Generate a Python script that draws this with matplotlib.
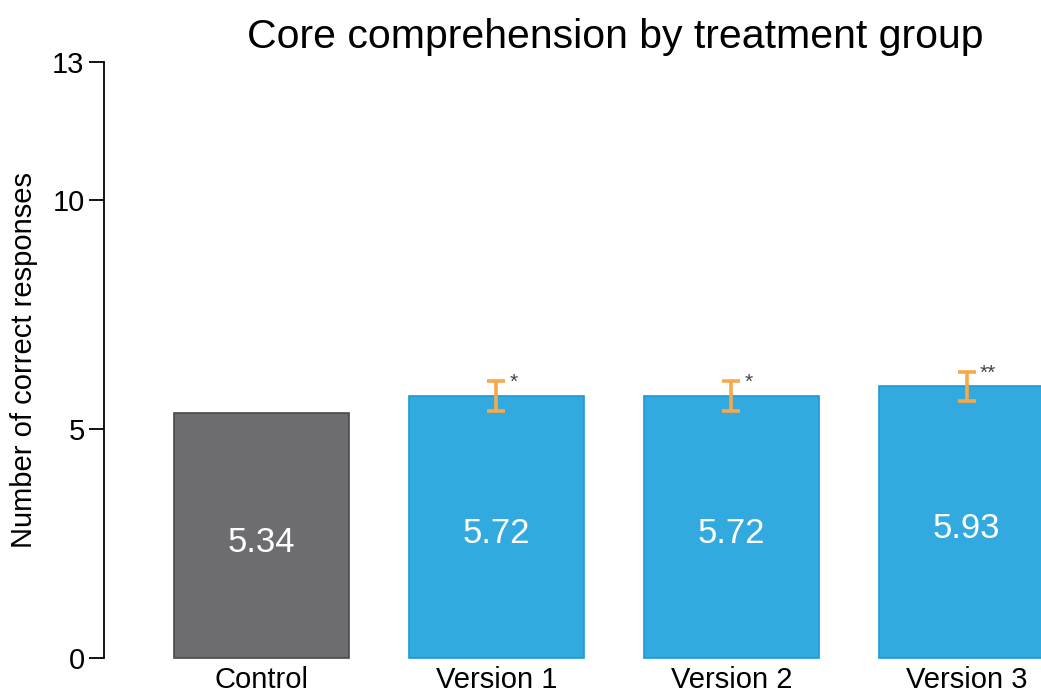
import numpy as np
import matplotlib
matplotlib.use("Agg")
from matplotlib import pyplot as plt

plt.rcParams['font.family'] = ['Liberation Sans', 'DejaVu Sans']

groups = ["Control", "Version 1", "Version 2", "Version 3"]
means = [5.34, 5.72, 5.72, 5.93]
err_low = [5.39, 5.39, 5.60]
err_high = [6.04, 6.04, 6.24]
stars = ["*", "*", "**"]

bar_colors = ["#6d6c71", "#33aadf", "#33aadf", "#33aadf"]
edge_colors = ["#4a494d", "#1b98d5", "#1b98d5", "#1b98d5"]

fig = plt.figure(figsize=(10.41, 6.93), dpi=100)
W, H = 1041, 693
# axes in pixel coords: left 104, right 1041, bottom y=658, top y=62
ax = fig.add_axes([104 / W, (H - 658) / H, (1041 - 104) / W, (658 - 62) / H])

x = np.arange(len(groups))
ax.bar(x, means, width=0.745, color=bar_colors, edgecolor=edge_colors, linewidth=1.2, clip_on=False)

for i, m in enumerate(means):
    ax.text(x[i], m / 2 - 0.15, f"{m:.2f}", ha="center", va="center", color="white", fontsize=25)

# error bars on versions
xv = x[1:]
mid = [(lo + hi) / 2 for lo, hi in zip(err_low, err_high)]
yerr = [[mi - lo for mi, lo in zip(mid, err_low)], [hi - mi for hi, mi in zip(err_high, mid)]]
eb = ax.errorbar(xv, mid, yerr=yerr, fmt="none", ecolor="#f6a94b", elinewidth=2.6,
                 capsize=6.5, capthick=2.6, zorder=4)
for cl in eb[1]:
    cl.set_solid_capstyle("round")
for i, s in enumerate(stars):
    ax.text(xv[i] + 0.055, err_high[i] - 0.02, s, ha="left", va="center", color="#444444", fontsize=15)

ax.set_xlim(-0.670, 3.317)
ax.set_ylim(0, 13)
ax.set_yticks([0, 5, 10, 13])
ax.set_xticks(x)
ax.set_xticklabels(groups, fontsize=21)
ax.tick_params(axis="y", labelsize=21, length=11, width=1.3, direction="out", pad=3)
ax.tick_params(axis="x", length=0, pad=6)
for sp in ["top", "right", "bottom"]:
    ax.spines[sp].set_visible(False)
ax.spines["left"].set_linewidth(1.3)
ax.set_ylabel("Number of correct responses", fontsize=21)
ax.yaxis.set_label_coords((38 - 104) / 937, 0.5)
fig.text(615 / W, 1 - 37 / H, "Core comprehension by treatment group", ha="center", va="center", fontsize=29.5)

fig.savefig("out.png", dpi=100)
